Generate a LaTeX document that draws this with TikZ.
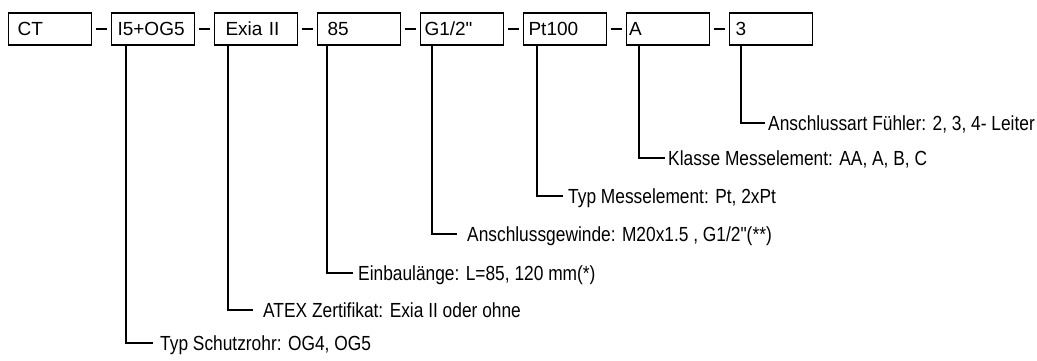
\documentclass[tikz,border=0pt]{standalone}
\usepackage{fontspec}
\setmainfont{Liberation Sans}[Ligatures=TeXOff]
\newfontfamily\lblfont{Liberation Sans}[Ligatures=TeXOff, FakeStretch=0.85]
\begin{document}
\begin{tikzpicture}[x=1pt,y=-1pt,
  box/.style={draw=black, line width=1.1pt, anchor=west, minimum height=32pt,
    align=left, text height=13.6pt, text depth=0pt, inner ysep=0pt,
    font=\fontsize{19}{22}\selectfont},
  lbl/.style={anchor=west, inner ysep=0pt, text height=14.6pt, text depth=0pt,
    font=\lblfont\fontsize{20.4}{24}\selectfont},
  conn/.style={draw=black, line width=1.3pt},
  dashln/.style={draw=black, line width=1.2pt}]
\useasboundingbox (0,0) rectangle (1037,360);
% boxes
\node[box, inner xsep=9pt,  text width=65pt] (b1) at (8,29)   {CT};
\node[box, inner xsep=6pt,  text width=71pt] (b2) at (111,29) {I5+OG5};
\node[box, inner xsep=11pt, text width=61pt] (b3) at (214,29) {Exia II};
\node[box, inner xsep=10pt, text width=63pt] (b4) at (317,29) {85};
\node[box, inner xsep=4pt,  text width=75pt] (b5) at (420,29) {G1/2"};
\node[box, inner xsep=5pt,  text width=73pt] (b6) at (523,29) {Pt100};
\node[box, inner xsep=2.5pt,text width=78pt] (b7) at (626,29) {A};
\node[box, inner xsep=6pt,  text width=71pt] (b8) at (729,29) {3};
% dashes between boxes
\foreach \a/\b in {b1/b2,b2/b3,b3/b4,b4/b5,b5/b6,b6/b7,b7/b8}{
  \draw[dashln] ([xshift=3.5pt]\a.east) -- ([xshift=-4pt]\b.west);
}
% labels
\node[lbl, inner xsep=7pt]  (l2) at (153,343) {Typ Schutzrohr: OG4, OG5};
\node[lbl, inner xsep=10pt] (l3) at (253,310) {ATEX Zertifikat: Exia II oder ohne};
\node[lbl, inner xsep=5pt]  (l4) at (353,273) {Einbaulänge: L=85, 120 mm(*)};
\node[lbl, inner xsep=10pt] (l5) at (457,234) {Anschlussgewinde: M20x1.5 , G1/2"(**)};
\node[lbl, inner xsep=5pt]  (l6) at (563,196) {Typ Messelement: Pt, 2xPt};
\node[lbl, inner xsep=3pt]  (l7) at (665,158) {Klasse Messelement: AA, A, B, C};
\node[lbl, inner xsep=3pt]  (l8) at (765,123) {Anschlussart Fühler: 2, 3, 4- Leiter};
% connectors
\draw[conn] ([xshift=15pt]b2.south west) |- (l2.west);
\draw[conn] ([xshift=14pt]b3.south west) |- (l3.west);
\draw[conn] ([xshift=10pt]b4.south west) |- (l4.west);
\draw[conn] ([xshift=12pt]b5.south west) |- (l5.west);
\draw[conn] ([xshift=14pt]b6.south west) |- (l6.west);
\draw[conn] ([xshift=13pt]b7.south west) |- (l7.west);
\draw[conn] ([xshift=12pt]b8.south west) |- (l8.west);
\end{tikzpicture}
\end{document}
